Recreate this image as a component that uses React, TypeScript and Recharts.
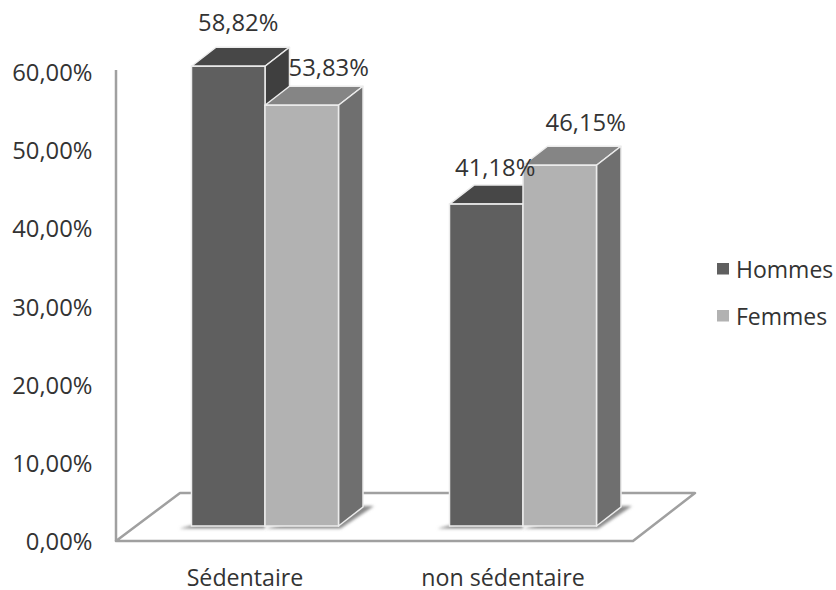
import React from "react";
import { BarChart, Bar, XAxis, YAxis, LabelList, usePlotArea } from "recharts";

const categories = ["Sédentaire", "non sédentaire"];
const hommes = [58.82, 41.18];
const femmes = [53.83, 46.15];
const yTicks = [0, 10, 20, 30, 40, 50, 60];

const rows = categories.map((name, i) => ({ name, Hommes: hommes[i], Femmes: femmes[i] }));

const FONT = "'Open Sans', sans-serif";
const TEXT_COLOR = "#333333";
const TEXT_SIZE = 23.8;
const CATEGORY_SIZE = 23.2;
const LEGEND_SIZE = 23;
const DEPTH_X = 24.5;
const DEPTH_Y = 19;
const EDGE = "#ececec";

const pct = (v: number) => v.toFixed(2).replace(".", ",") + "%";

const HOMMES_FACES = { front: "#5f5f5f", top: "#474747", side: "#3f3f3f" };
const FEMMES_FACES = { front: "#b2b2b2", top: "#858585", side: "#6f6f6f" };

// Extruded bar: front face, top and right side in an oblique projection.
function Prism({ x, y, width, height, faces, shadow }: any) {
  const r = x + width;
  const b = y + height;
  const dx = DEPTH_X;
  const dy = DEPTH_Y;
  return (
    <g>
      {shadow === "left" && (
        <polygon points={`${x - 12},${b + 2.5} ${x + 10},${b - 3} ${r},${b - 3} ${r},${b + 2.5}`} fill="#8a8a8a" filter="url(#floorShadow)" />
      )}
      {shadow === "right" && (
        <polygon points={`${x},${b + 2.5} ${r + 2},${b + 2.5} ${r + dx + 11},${b - dy - 1} ${r + dx - 6},${b - dy - 1}`} fill="#8a8a8a" filter="url(#floorShadow)" />
      )}
      <polygon points={`${x},${y} ${x + dx},${y - dy} ${r + dx},${y - dy} ${r},${y}`} fill={faces.top} stroke={EDGE} strokeWidth={1.5} strokeLinejoin="round" />
      <polygon points={`${r},${y} ${r + dx},${y - dy} ${r + dx},${b - dy} ${r},${b}`} fill={faces.side} stroke={EDGE} strokeWidth={1.5} strokeLinejoin="round" />
      <rect x={x} y={y} width={width} height={height} fill={faces.front} stroke={EDGE} strokeWidth={1.5} />
    </g>
  );
}

// Floor parallelogram and the wall line, placed relative to the plot area.
function Floor() {
  const plot = usePlotArea();
  if (!plot) return null;
  const base = plot.y + plot.height;
  const left = plot.x - 19.5;
  const right = plot.x + plot.width - 18.5;
  const stroke = "#a0a0a0";
  return (
    <g>
      <defs>
        <filter id="floorShadow" x="-30%" y="-100%" width="160%" height="300%">
          <feGaussianBlur stdDeviation="1.6" />
        </filter>
      </defs>
      <polygon
        points={`${left},${base + 15} ${right},${base + 15} ${right + 62},${base - 33} ${left + 64},${base - 33}`}
        fill="#ffffff"
        stroke={stroke}
        strokeWidth={2.5}
        strokeLinejoin="round"
      />
      <line x1={left} y1={plot.y + 13} x2={left} y2={base + 15} stroke={stroke} strokeWidth={2.5} />
    </g>
  );
}

function YTick({ x, y, payload }: any) {
  return (
    <text x={x} y={y + 15} textAnchor="end" dominantBaseline="central" fontFamily={FONT} fontSize={TEXT_SIZE} fill={TEXT_COLOR}>
      {pct(payload.value)}
    </text>
  );
}

function XTick({ x, y, payload }: any) {
  return (
    <text x={x - 19.5} y={y} textAnchor="middle" dominantBaseline="central" fontFamily={FONT} fontSize={CATEGORY_SIZE} fill={TEXT_COLOR}>
      {payload.value}
    </text>
  );
}

// Value labels sit where the 3D layout pushes them, one offset per category.
const HOMMES_LABEL_OFFSET = [{ dx: 10, dy: -44 }, { dx: 9, dy: -37 }];
const FEMMES_LABEL_OFFSET = [{ dx: 27, dy: -38 }, { dx: 26, dy: -43 }];

function ValueLabel({ x, y, width, value, index, offsets, clipId, series }: any) {
  const o = offsets[index];
  // A taller left neighbour's side face hides the start of the label.
  const hidden = series === "Femmes" && hommes[index] > femmes[index];
  return (
    <g>
      {hidden && (
        <clipPath id={`${clipId}-${index}`}>
          <rect x={x + DEPTH_X} y={y - 80} width={200} height={100} />
        </clipPath>
      )}
      <text
        x={x + width / 2 + o.dx}
        y={y + o.dy}
        textAnchor="middle"
        dominantBaseline="central"
        fontFamily={FONT}
        fontSize={TEXT_SIZE}
        fill={TEXT_COLOR}
        clipPath={hidden ? `url(#${clipId}-${index})` : undefined}
      >
        {pct(value)}
      </text>
    </g>
  );
}

function LegendBlock() {
  const items = [
    { name: "Hommes", color: HOMMES_FACES.front, top: 263 },
    { name: "Femmes", color: FEMMES_FACES.front, top: 310 },
  ];
  return (
    <g>
      {items.map((it) => (
        <g key={it.name}>
          <rect x={717} y={it.top} width={12} height={11.5} fill={it.color} />
          <text x={736} y={it.top + 6} dominantBaseline="central" fontFamily={FONT} fontSize={LEGEND_SIZE} fill={TEXT_COLOR}>
            {it.name}
          </text>
        </g>
      ))}
    </g>
  );
}

export default function App() {
  return (
    <div style={{ position: "absolute", left: 0, top: 0, width: 836, height: 590, background: "#fff" }}>
      <BarChart
        width={836}
        height={590}
        data={rows}
        margin={{ top: 57, right: 184.5, bottom: 8, left: 0 }}
        barSize={73.5}
        barGap={0}
      >
        <Floor />
        <XAxis dataKey="name" height={56} axisLine={false} tickLine={false} tick={<XTick />} tickMargin={45} interval={0} />
        <YAxis width={135.5} domain={[0, 60]} ticks={yTicks} axisLine={false} tickLine={false} tick={<YTick />} tickMargin={37} />
        <Bar
          dataKey="Hommes"
          isAnimationActive={false}
          shape={(p: any) => <Prism x={p.x} y={p.y} width={p.width} height={p.height} faces={HOMMES_FACES} shadow="left" />}
        >
          <LabelList dataKey="Hommes" content={(p: any) => <ValueLabel {...p} offsets={HOMMES_LABEL_OFFSET} clipId="clipH" series="Hommes" />} />
        </Bar>
        <Bar
          dataKey="Femmes"
          isAnimationActive={false}
          shape={(p: any) => <Prism x={p.x} y={p.y} width={p.width} height={p.height} faces={FEMMES_FACES} shadow="right" />}
        >
          <LabelList dataKey="Femmes" content={(p: any) => <ValueLabel {...p} offsets={FEMMES_LABEL_OFFSET} clipId="clipF" series="Femmes" />} />
        </Bar>
        <LegendBlock />
      </BarChart>
    </div>
  );
}
